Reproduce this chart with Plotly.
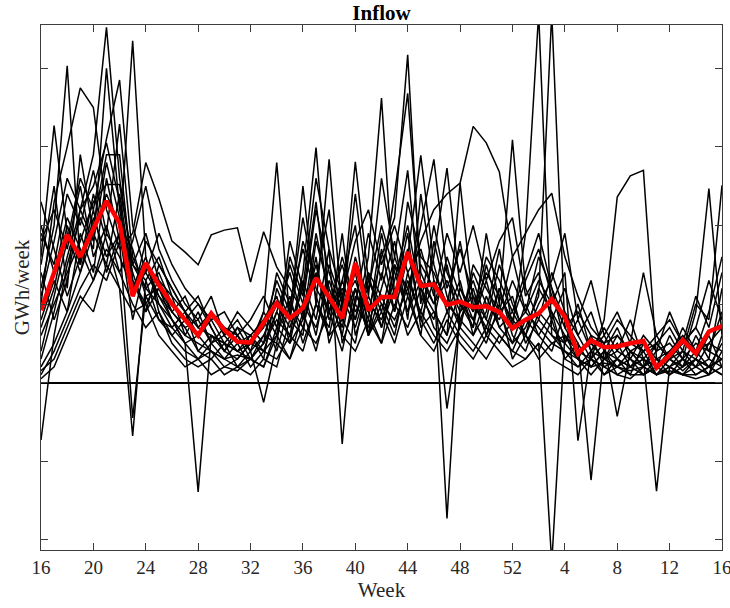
import plotly.graph_objects as go

# Week axis: week 16 through week 16 of the following year (53 weekly points)
weeks = list(range(16, 69))
tick_vals = list(range(16, 69, 4))
tick_text = ["16", "20", "24", "28", "32", "36", "40", "44", "48", "52", "4", "8", "12", "16"]

# Inflow scenarios per historical year (GWh/week, scaled units)
year_01 = [0.3, 0.9, 1.6, 2.2, 2.9, 4.52, 2.6, 1.5, 1.2, 1.0,
           0.8, 0.6, 0.5, 0.4, 0.3, 0.35, 0.3, 0.5, 0.9, 1.4,
           0.8, 1.9, 1.1, 0.6, 1.5, 0.9, 1.6, 2.1, 4.17, 1.2,
           0.7, 0.5, 0.9, 1.3, 0.8, 0.6, 0.4, 0.3, 0.5, -2.3,
           0.6, 0.3, 0.2, 0.25, 0.2, 0.15, 0.2, 0.1, 0.3, 0.4,
           0.2, 0.5, 0.7]
year_02 = [1.2, 2.0, 4.03, 1.5, 2.4, 1.8, 1.2, -0.68, 1.3, 1.6,
           1.1, 0.9, 0.7, 0.6, 0.5, 0.4, 0.6, 0.3, 1.2, 0.8,
           1.8, 1.3, 2.2, 0.5, 1.0, 0.7, 1.4, 0.9, 2.3, 1.6,
           1.4, 1.0, 0.8, 0.6, 0.9, 1.7, 0.7, 1.9, 4.7, 0.6,
           0.4, 0.3, 0.6, 0.2, 0.3, 0.2, 0.4, 0.1, 0.2, 0.3,
           0.1, 0.2, 0.3]
year_03 = [0.8, 1.3, 0.9, 1.9, 1.4, 2.6, 1.8, 4.35, 1.6, 1.0,
           0.7, 0.9, 0.4, 0.6, 0.5, 0.7, 0.4, 0.6, 0.5, 1.6,
           1.1, 2.3, 0.9, 1.3, 2.0, 0.6, 1.2, 1.8, 0.8, 2.4,
           1.3, -1.73, 1.0, 0.7, 1.5, 0.9, 0.5, 0.7, 1.1, 4.7,
           0.7, 0.4, 0.5, 0.3, 0.6, 0.4, 0.2, 0.3, 0.1, 0.2,
           0.4, 0.2, 0.5]
year_04 = [-0.73, 0.6, 1.5, 2.1, 1.7, 4.0, 2.2, 1.4, 0.9, 1.2,
           0.8, 0.5, -1.39, 0.6, 0.4, 0.3, 0.5, 0.8, 0.4, 1.0,
           0.7, 1.4, 0.9, 1.2, 0.8, 1.6, 3.62, 1.1, 1.9, 0.7,
           0.9, 0.6, 1.2, 0.8, 0.5, 1.0, 0.3, 0.6, 0.4, 0.8,
           0.3, 0.5, 0.2, 0.4, 0.3, 0.1, 0.5, 0.2, 0.1, 0.3,
           0.2, 0.1, 0.4]
year_05 = [1.6, 3.27, 1.9, 1.4, 2.1, 1.6, 1.9, 1.1, 1.8, 1.5,
           1.2, 0.9, 0.6, 0.8, 0.5, 0.4, 0.3, 0.2, 0.7, 0.5,
           1.3, 0.8, 1.7, -0.78, 1.1, 0.9, 0.5, 1.5, 1.2, 0.6,
           1.8, 1.1, 0.7, 1.4, 1.0, 0.8, 1.3, 0.9, 1.6, 1.2,
           0.8, 0.5, -1.24, 0.4, 0.2, 0.3, 0.1, 0.2, 0.4, 0.2,
           0.3, 0.6, 0.2]
year_06 = [1.0, 2.3, 3.0, 3.75, 3.5, 2.2, 1.7, 1.9, 2.8, 2.34,
           1.8, 1.66, 1.5, 1.88, 1.94, 1.97, 1.28, 1.92, 1.47, 1.2,
           0.9, 1.5, 0.8, 1.1, 0.7, 1.3, 1.0, 0.6, 1.4, 0.8,
           0.5, 0.9, 0.6, 0.4, 0.7, 0.5, 0.8, 0.6, 0.3, 0.5,
           0.4, 0.2, 0.3, 0.1, 0.2, 0.4, 0.3, -1.38, 0.2, 0.1,
           0.3, 0.2, 0.1]
year_07 = [0.4, 1.1, 1.8, 2.6, 2.2, 3.1, 3.85, 2.0, 1.4, 1.1,
           0.9, 0.7, 0.8, 0.5, 0.6, 0.4, 0.5, 0.7, 1.3, 0.9,
           2.1, 1.2, 0.9, 1.6, 1.0, 1.9, 1.3, 2.4, 3.68, 1.4,
           1.0, 1.3, 0.9, 1.1, 0.6, 1.2, 0.7, 0.9, 1.3, 1.0,
           1.4, -0.74, 0.4, 0.3, 0.5, 0.2, 0.3, 0.2, 0.6, 0.3,
           0.5, 0.4, 0.9]
year_08 = [1.9, 1.5, 2.4, 2.0, 2.7, 1.9, 3.29, 1.6, 1.2, 1.4,
           1.0, 0.8, 0.6, 0.9, 0.7, 0.5, 0.6, 0.4, 0.9, 0.6,
           1.0, 0.7, 1.3, 0.8, 1.2, 0.6, 1.0, 0.8, 1.2, 1.8,
           2.2, 2.4, 2.54, 3.26, 3.05, 2.68, 1.6, 0.9, 0.7, 0.5,
           0.6, 0.4, 0.3, 0.8, 2.36, 2.63, 2.70, 0.3, 0.2, 0.4,
           0.3, 0.2, 0.3]
year_09 = [1.4, 0.8, 1.3, 2.2, 2.5, 3.05, 2.3, 1.2, 1.6, 0.9,
           0.6, 0.8, 1.0, 0.7, 0.4, 0.6, 0.3, 0.5, 0.8, 0.6,
           1.4, 2.99, 1.0, 1.5, 0.9, 1.2, 2.0, 1.4, 0.9, 1.5,
           1.2, -0.33, 0.8, 1.2, 0.6, 0.9, 1.1, 0.5, 0.8, 1.4,
           0.9, 0.6, 0.3, 0.5, -0.43, 0.4, 0.2, 0.5, 0.3, 0.2,
           0.6, 0.3, 1.2]
year_10 = [2.3, 1.7, 1.1, 1.6, 2.0, 2.9, 2.9, 1.3, 1.0, 1.3,
           1.1, 0.6, 0.9, 0.5, 0.7, 0.6, 0.4, 0.9, 2.80, 0.8,
           0.6, 1.8, 1.2, 0.7, 1.6, 1.0, 0.8, 1.3, 2.0, 1.1,
           0.8, 1.6, 1.1, 0.7, 1.9, 1.0, 3.09, 1.2, 0.8, 0.6,
           0.5, 0.8, 0.4, 0.6, 0.3, 0.5, 0.4, 0.6, 0.3, 0.5,
           0.7, 0.4, 0.3]
year_11 = [0.6, 1.0, 1.4, 1.8, 2.3, 2.52, 2.52, 1.5, 1.3, 0.8,
           0.7, 0.5, 0.3, 0.4, 0.2, 0.3, 0.5, 0.4, 0.6, 1.1,
           0.5, 1.0, 2.84, 0.9, 1.4, 0.6, 1.7, 0.9, 1.6, 2.89,
           1.5, 0.9, 1.3, 0.6, 1.1, 0.7, 0.5, 1.0, 0.6, 0.9,
           0.3, 0.2, 0.4, 0.1, 0.3, 0.2, 0.1, 0.3, 0.2, 0.1,
           0.2, 0.3, 0.2]
year_12 = [0.2, 0.5, 0.9, 1.4, 1.9, 2.4, 2.0, 1.7, 1.1, 1.2,
           0.9, 0.7, 0.4, 0.3, 0.5, 0.2, 0.3, 0.6, 1.0, 0.7,
           1.2, 0.6, 1.5, 1.0, 2.81, 1.3, 0.9, 1.6, 1.1, 2.0,
           2.84, 1.4, 1.0, 0.8, 1.3, 0.7, 0.9, 0.6, 1.2, 0.9,
           0.6, 0.4, 0.5, 0.3, 0.4, 0.3, 0.2, 0.4, 0.5, 0.3,
           0.9, 2.47, 0.6]
year_13 = [1.8, 2.2, 1.7, 2.5, 1.6, 2.0, 1.4, 1.8, 2.5, 1.7,
           1.3, 1.0, 0.8, 1.1, 0.6, 0.9, 0.7, 0.5, 1.4, 1.0,
           1.7, 1.1, 0.6, 1.3, 0.8, 1.4, 1.1, 0.7, 1.3, 0.9,
           1.6, 2.73, 1.2, 0.9, 1.4, 1.1, 0.8, 1.3, 1.7, 1.1,
           0.7, 0.9, 0.6, 0.5, 0.8, 0.6, 0.4, 0.5, 0.7, 0.4,
           1.0, 0.8, 2.51]
year_14 = [0.1, 0.4, 0.8, 1.2, 1.5, 1.3, 1.8, -0.45, 1.1, 0.8,
           0.6, 0.4, 0.3, 0.5, 0.3, 0.2, 0.4, -0.25, 0.5, 0.3,
           0.9, 0.4, 1.1, 0.6, 0.4, 0.8, 0.5, 1.0, 0.7, 1.2,
           0.9, 0.6, 2.54, 1.0, 0.7, 1.2, 0.6, 0.4, 0.9, 0.7,
           0.5, 0.3, 0.2, 0.4, 0.1, 0.2, 0.3, 0.1, 0.2, 0.1,
           0.1, 0.2, 0.1]
year_15 = [0.05, 0.2, 0.6, 1.0, 1.3, 1.7, 1.4, 1.0, 0.7, 0.9,
           0.5, 0.3, 0.2, 0.3, 0.1, 0.2, 0.1, 0.3, 0.2, 0.8,
           2.5, 1.0, 0.7, 1.9, 0.6, 1.1, 0.7, 1.5, 0.9, 1.3,
           1.0, 1.5, 0.7, 1.5, 1.2, 0.9, 1.6, 1.9, 2.2, 2.41,
           1.6, 1.1, 0.7, 0.5, 0.6, 0.4, 0.5, 0.3, 0.4, 0.6,
           0.4, 0.9, 1.6]
year_16 = [2.0, 1.4, 2.1, 1.7, 1.3, 1.9, 1.6, 1.2, 1.4, 1.9,
           1.5, 1.2, 1.0, 0.8, 0.9, 0.6, 0.8, 1.1, 0.7, 1.5,
           1.0, 2.2, 1.4, 0.9, 2.4, 1.1, 2.6, 1.6, 2.7, 1.0,
           2.0, 1.2, 1.7, 1.1, 0.8, 1.5, 1.0, 0.6, 1.0, 1.3,
           1.9, 0.8, 1.3, 0.6, 0.9, 0.5, 1.4, 0.6, 0.8, 0.5,
           1.1, 0.7, 1.4]
year_17 = [0.15, 0.3, 0.7, 1.1, 0.9, 1.5, 1.2, 0.9, 1.0, 0.6,
           0.4, 0.2, 0.3, 0.1, 0.2, 0.15, 0.3, 0.2, 0.6, 0.3,
           0.7, 0.5, 0.9, 0.4, 1.2, 0.6, 0.9, 0.5, 1.1, 0.6,
           0.4, 0.8, 0.5, 0.3, 0.6, 0.4, 0.2, 0.3, 0.5, 0.3,
           0.2, 0.1, 0.3, 0.2, 0.1, 0.05, 0.2, 0.1, 0.15, 0.1,
           0.05, 0.1, 0.2]
year_18 = [1.1, 1.8, 2.6, 2.2, 1.8, 2.8, 2.1, 1.5, 1.9, 1.3,
           0.9, 1.1, 0.7, 0.9, 0.6, 0.8, 0.5, 0.9, 0.6, 1.8,
           1.2, 2.6, 1.7, 1.1, 1.8, 2.2, 1.5, 2.0, 1.4, 1.7,
           1.1, 1.9, 1.4, 2.0, 1.3, 1.8, 2.1, 1.1, 1.4, 0.8,
           1.2, 0.6, 0.9, 0.4, 0.7, 0.3, 0.6, 0.4, 0.9, 0.5,
           0.7, 1.3, 0.8]
year_19 = [0.7, 1.2, 2.0, 1.5, 2.2, 1.4, 1.9, 0.8, 1.5, 1.1,
           0.8, 0.5, 0.6, 0.4, 0.3, 0.5, 0.2, 0.4, 0.3, 0.6,
           0.4, 1.0, 0.6, 0.8, 0.5, 1.4, 0.7, 1.2, 0.6, 0.9,
           0.6, 0.4, 0.7, 0.5, 0.3, 0.6, 0.4, 0.8, 0.6, 0.4,
           0.9, 0.3, 0.1, 0.3, 0.2, 0.1, 0.1, 0.2, 0.3, 0.15,
           0.3, 0.1, 0.6]
year_20 = [1.5, 2.5, 1.2, 2.9, 1.9, 1.5, 2.4, 1.3, 0.9, 1.5,
           1.2, 0.9, 1.1, 0.7, 0.4, 0.7, 0.6, 0.8, 1.1, 0.5,
           0.8, 1.6, 0.5, 1.0, 1.3, 0.8, 1.9, 1.1, 1.7, 0.8,
           1.3, 1.0, 1.8, 0.9, 1.6, 1.3, 0.9, 1.4, 1.9, 1.2,
           0.5, 1.0, 0.4, 0.7, 0.4, 0.8, 0.3, 0.5, 0.3, 0.7,
           0.4, 0.5, 0.4]

# Expected (average) inflow
expected = [0.92, 1.40, 1.88, 1.60, 1.96, 2.31, 2.03, 1.10, 1.52, 1.24,
            1.00, 0.80, 0.60, 0.88, 0.67, 0.52, 0.51, 0.76, 1.01, 0.82,
            0.95, 1.33, 1.09, 0.82, 1.52, 0.92, 1.09, 1.09, 1.66, 1.23,
            1.25, 0.99, 1.03, 0.96, 0.97, 0.90, 0.69, 0.80, 0.88, 1.06,
            0.84, 0.37, 0.54, 0.45, 0.46, 0.50, 0.53, 0.19, 0.35, 0.54,
            0.37, 0.65, 0.72]

scenarios = [year_01, year_02, year_03, year_04, year_05, year_06, year_07,
             year_08, year_09, year_10, year_11, year_12, year_13, year_14,
             year_15, year_16, year_17, year_18, year_19, year_20]

fig = go.Figure()
for i, series in enumerate(scenarios, start=1):
    fig.add_trace(go.Scatter(
        x=weeks, y=series, mode="lines", name=f"Year {i}",
        line=dict(color="black", width=1.5), showlegend=False,
        hoverinfo="skip"))

fig.add_trace(go.Scatter(
    x=weeks, y=expected, mode="lines", name="Expected",
    line=dict(color="#ff0000", width=4.5), showlegend=False))

serif = "Liberation Serif, Times New Roman, serif"
axis_common = dict(
    showline=True, linecolor="#3c3c3c", linewidth=1, mirror="ticks",
    ticks="inside", ticklen=7, tickwidth=1, tickcolor="#3c3c3c",
    showgrid=False, automargin=False,
)

fig.update_layout(
    width=730, height=608,
    margin=dict(l=41, r=8, t=25, b=58),
    paper_bgcolor="white", plot_bgcolor="white",
    font=dict(family=serif, color="#262626", size=19),
    title=dict(text="<b>Inflow</b>", x=0.5, xanchor="center",
               xref="paper", y=0.98, yanchor="middle", yref="container",
               font=dict(family=serif, size=21, color="black")),
    xaxis=dict(range=[16, 68], tickmode="array", tickvals=tick_vals,
               ticktext=tick_text, zeroline=False,
               ticklabeloverflow="allow",
               title=dict(text="Week", standoff=4,
                          font=dict(family=serif, size=21, color="#262626")),
               tickfont=dict(family=serif, size=19, color="#262626"),
               **axis_common),
    yaxis=dict(range=[-2.13, 4.55], tickmode="array",
               tickvals=[-2, -1, 0, 1, 2, 3, 4], showticklabels=False,
               zeroline=True, zerolinecolor="black", zerolinewidth=1.6,
               title=dict(text="GWh/week", standoff=4,
                          font=dict(family=serif, size=21, color="#262626")),
               **axis_common),
)

fig.write_html("out.html")
